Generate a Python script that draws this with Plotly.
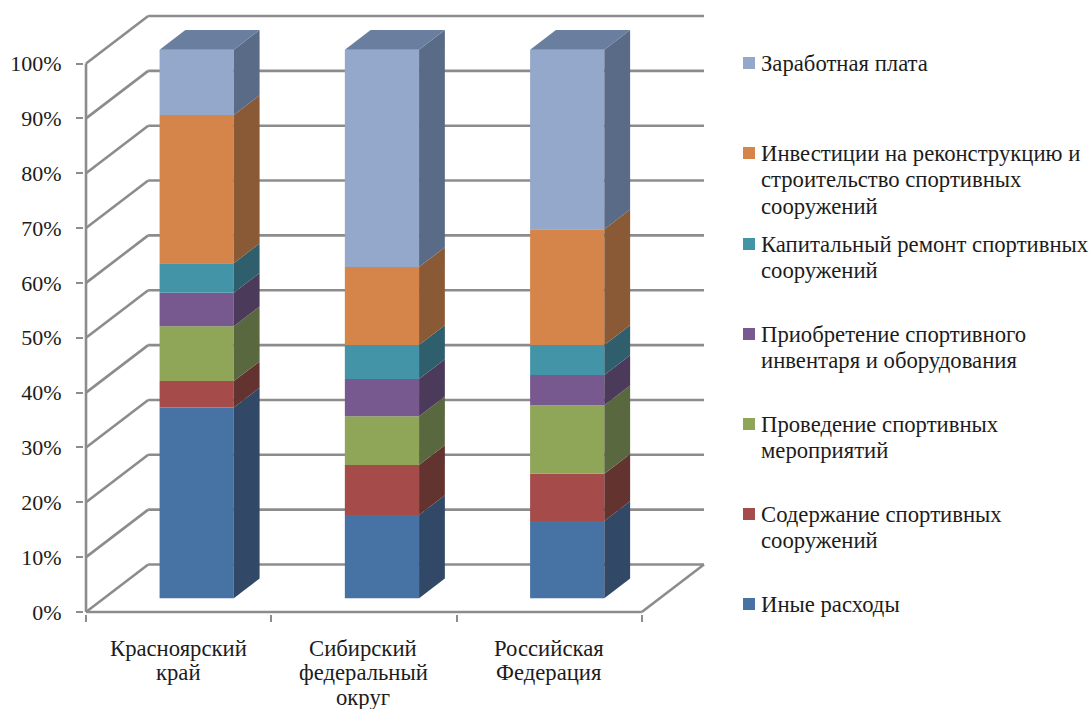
import numpy as np
import plotly.graph_objects as go

categories = ["Красноярский<br>край", "Сибирский<br>федеральный<br>округ", "Российская<br>Федерация"]
series_names = [
    "Иные расходы",
    "Содержание спортивных<br>сооружений",
    "Проведение спортивных<br>мероприятий",
    "Приобретение спортивного<br>инвентаря и оборудования",
    "Капитальный ремонт спортивных<br>сооружений",
    "Инвестиции на реконструкцию и<br>строительство спортивных<br>сооружений",
    "Заработная плата",
]
inye = [34.8, 15.2, 14.1]
soderzhanie = [4.8, 9.1, 8.6]
meropriyatiya = [10.0, 8.9, 12.5]
inventar = [6.1, 6.8, 5.5]
remont = [5.4, 6.2, 5.5]
investitsii = [27.0, 14.2, 21.1]
zarplata = [11.9, 39.6, 32.7]
series_values = [inye, soderzhanie, meropriyatiya, inventar, remont, investitsii, zarplata]
y_ticks = [0, 10, 20, 30, 40, 50, 60, 70, 80, 90, 100]

front_colors = ["#4672A4", "#A54C4A", "#8FA557", "#77598F", "#4494A8", "#D6854A", "#93A8CB"]
side_colors = ["#324867", "#63332F", "#5A6840", "#4B3A5A", "#2F5E6C", "#895A35", "#5A6B87"]
top_color = "#6A7E9F"
GRID = "#8C8C8E"
FONT = "Liberation Serif"
TXT = "#1c1c1c"

W, H = 1091, 709
PX0, PY0 = 86, 612          # front-left-bottom corner in page pixels
CAT_PX, PCT_PX = 184.7, 5.485
pad = 2
L, R, T, B = PX0 - pad, 704 + pad, 16 - pad, PY0 + pad

wall_dx, wall_dy = 62 / CAT_PX, 47.5 / PCT_PX
bar_off_x, bar_off_y = 18 / CAT_PX, 13.7 / PCT_PX
bar_dx, bar_dy = 25.7 / CAT_PX, 19.7 / PCT_PX
bar_w = 74 / CAT_PX
n = len(categories)

fig = go.Figure()
shapes = []
line = dict(color=GRID, width=2.6)


def seg(x0, y0, x1, y1):
    shapes.append(dict(type="line", xref="x", yref="y", x0=x0, y0=y0, x1=x1, y1=y1,
                       line=line, layer="below"))


for v in y_ticks:
    seg(0, v, wall_dx, v + wall_dy)
    seg(wall_dx, v + wall_dy, n + wall_dx, v + wall_dy)
seg(0, 0, 0, 100)
seg(0, 0, n, 0)
seg(n, 0, n + wall_dx, wall_dy)

cum = np.zeros(n)
for s, vals in enumerate(series_values):
    vals = np.array(vals, dtype=float)
    base = cum + bar_off_y
    centers = np.arange(n) + 0.5 + bar_off_x
    fig.add_trace(go.Bar(x=centers, y=vals, base=base, width=bar_w,
                         marker=dict(color=front_colors[s], line=dict(width=0)),
                         name=series_names[s].replace("<br>", " "), showlegend=False))
    for i in range(n):
        xr = centers[i] + bar_w / 2
        b, t = base[i], base[i] + vals[i]
        fig.add_trace(go.Scatter(x=[xr, xr + bar_dx, xr + bar_dx, xr, xr],
                                 y=[b, b + bar_dy, t + bar_dy, t, b],
                                 mode="lines", fill="toself", fillcolor=side_colors[s],
                                 line=dict(width=0), showlegend=False, hoverinfo="skip"))
        if s == len(series_values) - 1:
            xl = centers[i] - bar_w / 2
            fig.add_trace(go.Scatter(x=[xl, xr, xr + bar_dx, xl + bar_dx, xl],
                                     y=[t, t, t + bar_dy, t + bar_dy, t],
                                     mode="lines", fill="toself", fillcolor=top_color,
                                     line=dict(width=0), showlegend=False, hoverinfo="skip"))
    cum = cum + vals

legend_key_y = [604, 514, 424, 334, 244, 153, 63]
KEY_X0, KEY_X1, TEXT_X = 743, 755, 759.5
LINE_PX = 26.4
PW, PH = R - L, B - T
annotations = []


def label(text, x, xref, py, anchor, size=22.7):
    annotations.append(dict(xref=xref, yref="paper", x=x, y=(B - py) / PH,
                            xanchor=anchor, yanchor="middle", showarrow=False,
                            text=text, borderpad=0,
                            font=dict(family=FONT, size=size, color=TXT)))


for s, ky in enumerate(legend_key_y):
    shapes.append(dict(type="rect", xref="paper", yref="paper",
                       x0=(KEY_X0 - L) / PW, x1=(KEY_X1 - L) / PW,
                       y0=(B - (ky + 6)) / PH, y1=(B - (ky - 6)) / PH,
                       fillcolor=front_colors[s], line=dict(width=0), layer="above"))
    for k, part in enumerate(series_names[s].split("<br>")):
        label(part, (TEXT_X - L) / PW, "paper", ky + 0.5 + k * LINE_PX, "left")

CAT_FIRST_Y, CAT_LINE_PX = 648, 24.5
for i, cat in enumerate(categories):
    for k, part in enumerate(cat.split("<br>")):
        label(part, i + 0.5 - 0.003, "x", CAT_FIRST_Y + k * CAT_LINE_PX, "center")

fig.update_layout(
    width=W, height=H, autosize=False,
    margin=dict(l=L, r=W - R, t=T, b=H - B, pad=0, autoexpand=False),
    paper_bgcolor="white", plot_bgcolor="white",
    barmode="overlay", showlegend=False,
    shapes=shapes, annotations=annotations,
    font=dict(family=FONT, size=22, color=TXT),
    xaxis=dict(range=[-pad / CAT_PX, n + wall_dx + pad / CAT_PX], automargin=False,
               tickmode="array", tickvals=list(range(n + 1)), ticktext=[""] * (n + 1),
               ticks="outside", ticklen=7, tickwidth=2, tickcolor=GRID,
               showgrid=False, zeroline=False, showline=False),
    yaxis=dict(range=[-pad / PCT_PX, 100 + wall_dy + pad / PCT_PX], automargin=False,
               tickmode="array", tickvals=y_ticks, ticktext=[f"{v}%" for v in y_ticks],
               ticks="outside", ticklen=7, tickwidth=2, tickcolor=GRID,
               showgrid=False, zeroline=False, showline=False,
               ticklabelstandoff=10,
               tickfont=dict(family=FONT, size=22, color=TXT)),
)

fig.write_html("out.html", config={"displayModeBar": False},
               post_script="document.body.style.margin='0';document.body.style.overflow='hidden';")
